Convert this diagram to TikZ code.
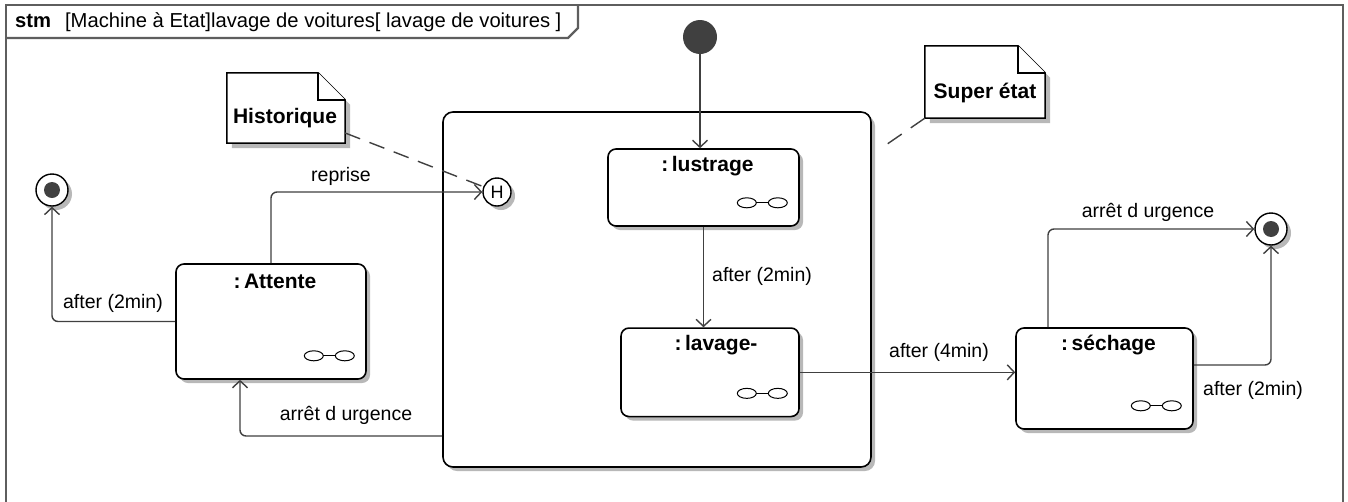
\documentclass[tikz,border=0pt]{standalone}
\usepackage{fontspec}
\setmainfont{Liberation Sans}
\usetikzlibrary{arrows.meta,shadows,calc}
\definecolor{conn}{HTML}{404040}
\definecolor{frm}{HTML}{5E5E5E}
\definecolor{shd}{HTML}{B8B8B8}
\definecolor{dotc}{HTML}{404040}
\newcommand{\umlnote}[1]{%
  \fill[shd] ([shift={(5pt,-5pt)}]#1.north west) -- ([shift={(-22pt,-5pt)}]#1.north east) -- ([shift={(5pt,-32pt)}]#1.north east) -- ([shift={(5pt,-5pt)}]#1.south east) -- ([shift={(5pt,-5pt)}]#1.south west) -- cycle;
  \draw[noteline] (#1.north west) -- ([xshift=-27pt]#1.north east) -- ([yshift=-27pt]#1.north east) -- (#1.south east) -- (#1.south west) -- cycle;
  \draw[noteline] ([xshift=-27pt]#1.north east) |- ([yshift=-27pt]#1.north east);
}
\newcommand{\submicon}[1]{%
  \draw[iconline] ([shift={(-53pt,24pt)}]#1.south east) ellipse [x radius=9.5pt, y radius=5pt];
  \draw[iconline] ([shift={(-22pt,24pt)}]#1.south east) ellipse [x radius=9.5pt, y radius=5pt];
  \draw[iconline] ([shift={(-43.5pt,24pt)}]#1.south east) -- ([shift={(-31.5pt,24pt)}]#1.south east);
}
\begin{document}
\begin{tikzpicture}[x=1pt,y=-1pt,
  txt/.style={font=\fontsize{19.5}{22}\selectfont, inner sep=0pt},
  btxt/.style={font=\fontsize{21}{24}\selectfont\bfseries, inner sep=0pt},
  shdw/.style={drop shadow={shadow xshift=4pt,shadow yshift=-4pt,fill=shd,opacity=1}},
  state/.style={draw=black,line width=1.6pt,rounded corners=8pt,fill=white,shdw,inner sep=0pt},
  tr/.style={draw=conn,line width=1.4pt,-{Straight Barb[length=7pt,width=15pt,line width=1.4pt]},rounded corners=6pt},
  notelink/.style={draw=conn,line width=1.4pt,dash pattern=on 16pt off 10pt},
  noteline/.style={draw=black,line width=1.5pt,fill=white},
  iconline/.style={draw=black,line width=1pt},
  frame/.style={draw=frm,line width=2.2pt}
]
\useasboundingbox (0,0) rectangle (1348,501);
\clip (0,0) rectangle (1348,501);
\fill[white] (0,0) rectangle (1348,501);

% frame
\draw[frame] (6,530) -- (6,5) -- (1343,5) -- (1343,530);
\draw[frame] (6,38) -- (568,38) -- (578,28) -- (578,5);
\node[font=\fontsize{20.2}{23}\selectfont,inner sep=0pt,anchor=west] (title) at (15,22) {\textbf{stm}\hspace{14pt}[Machine à Etat]lavage de voitures[ lavage de voitures ]};

% super state
\node[state,rounded corners=10pt,minimum width=428pt,minimum height=355pt] (super) at (657,289.5) {};

% states
\node[state,minimum width=190pt,minimum height=115pt] (attente) at (271,321.5) {};
\node[btxt] (attente-t) at ([shift={(4pt,-18pt)}]attente.north) {:\,Attente};
\submicon{attente}

\node[state,minimum width=191pt,minimum height=77pt] (lustrage) at (703.5,187.5) {};
\node[btxt] (lustrage-t) at ([shift={(4pt,-18pt)}]lustrage.north) {:\,lustrage};
\submicon{lustrage}

\node[state,minimum width=178pt,minimum height=88.5pt] (lavage) at (710,372.3) {};
\node[btxt] (lavage-t) at ([shift={(6pt,-18pt)}]lavage.north) {:\,lavage-};
\submicon{lavage}

\node[state,minimum width=177pt,minimum height=101pt] (sechage) at (1104.5,378.5) {};
\node[btxt] (sechage-t) at ([shift={(4pt,-18pt)}]sechage.north) {:\,séchage};
\submicon{sechage}

% pseudo states
\node[circle,fill=dotc,minimum size=34pt,inner sep=0pt] (init) at (700,37) {};
\node[circle,draw=black,line width=1.4pt,fill=white,minimum size=32pt,inner sep=0pt,shdw] (finL) at (52,190) {};
\node[circle,fill=dotc,minimum size=16pt,inner sep=0pt] (finLdot) at (finL) {};
\node[circle,draw=black,line width=1.4pt,fill=white,minimum size=32pt,inner sep=0pt,shdw] (finR) at (1271,229) {};
\node[circle,fill=dotc,minimum size=16pt,inner sep=0pt] (finRdot) at (finR) {};
\node[circle,draw=black,line width=1.4pt,fill=white,minimum size=28pt,inner sep=0pt,shdw,font=\fontsize{18}{20}\selectfont] (hist) at (497,192) {H};

% notes
\node[minimum width=118pt,minimum height=70pt,inner sep=0pt] (nhist) at (286,108) {};
\umlnote{nhist}
\node[btxt] (nhist-t) at (285,118) {Historique};
\node[minimum width=120pt,minimum height=72pt,inner sep=0pt] (nsuper) at (985,82) {};
\umlnote{nsuper}
\node[btxt] (nsuper-t) at (985,93) {Super état};
\coordinate (superlink) at (880,149);
\draw[notelink] ([yshift=-25pt]nhist.east) -- (hist);
\draw[notelink,dash pattern=on 17pt off 11pt] (nsuper.south west) -- (superlink);

% transitions
\draw[tr] (init.south) -- (init.south |- lustrage.north);
\draw[tr] (lustrage.south) -- (lustrage.south |- lavage.north);
\node[txt,anchor=west] (l1) at (712,276) {after (2min)};
\draw[tr] (lavage.east) -- (lavage.east -| sechage.west);
\node[txt] (l2) at (939,352) {after (4min)};
\draw[tr] ([xshift=-56.5pt]sechage.north) |- (finR.west);
\node[txt] (l3) at (1148,212) {arrêt d urgence};
\draw[tr] ([yshift=13.5pt]sechage.east) -| (finR.south);
\node[txt,anchor=west] (l4) at (1203,390) {after (2min)};
\draw[tr] (attente.west) -| (finL.south);
\node[txt] (l5) at (113,303) {after (2min)};
\draw[tr] (attente.north) |- (hist.west);
\node[txt] (l6) at (341,176) {reprise};
\draw[tr] ([yshift=-146.5pt]super.west) -| ([xshift=-31pt]attente.south);
\node[txt] (l7) at (346,415) {arrêt d urgence};
\end{tikzpicture}
\end{document}
